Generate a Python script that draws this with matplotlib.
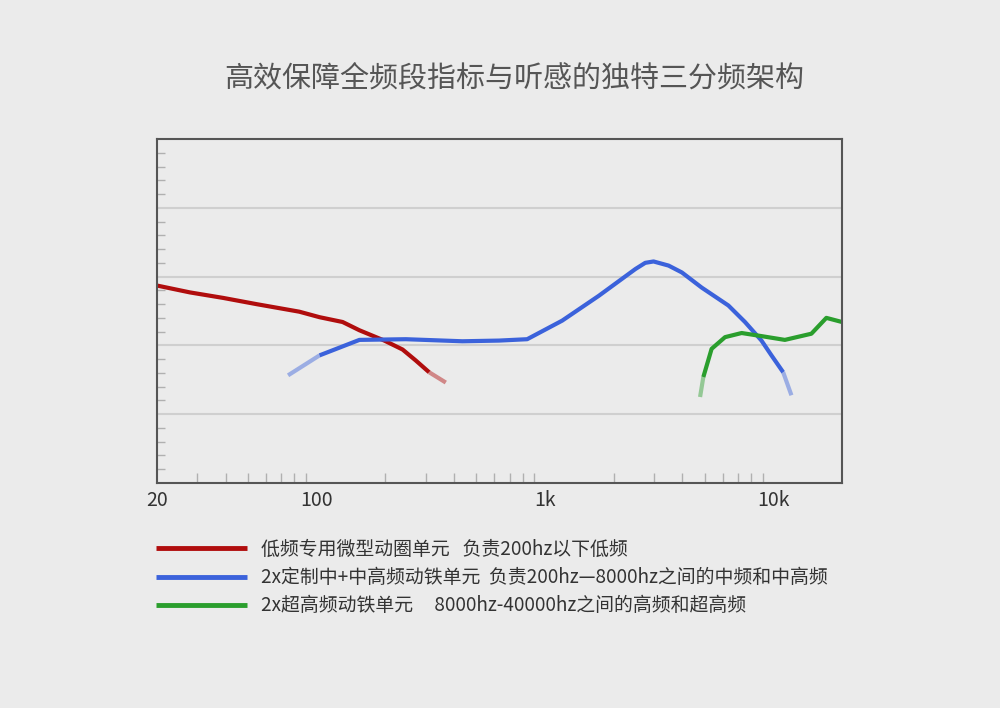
import numpy as np
import matplotlib
matplotlib.use('Agg')
from matplotlib import pyplot as plt
from matplotlib.ticker import FixedLocator, NullFormatter, FixedFormatter

plt.rcParams['font.family'] = ['Noto Sans CJK SC', 'DejaVu Sans']

# data (freq in Hz, level in arbitrary units 0..50)
titulo = '高效保障全频段指标与听感的独特三分频架构'

graves_f = [20, 27.9, 39, 54.5, 84, 103, 130, 154, 198, 238, 272, 311, 368]
graves_y = [28.7, 27.7, 26.9, 26.0, 24.9, 24.1, 23.4, 22.2, 20.7, 19.4, 17.8, 16.1, 14.6]

medios_f = [75, 103, 154, 246, 435, 629, 836, 1190, 1720, 2490, 2750, 2990, 3480,
            3980, 4860, 6360, 7520, 8880, 9820, 11050, 12010]
medios_y = [15.65, 18.55, 20.8, 20.9, 20.6, 20.7, 20.9, 23.6, 27.2, 31.1, 32.0, 32.2, 31.6,
            30.6, 28.4, 25.8, 23.4, 20.7, 18.55, 16.1, 12.75]

agudos_f = [4780, 4940, 5370, 6150, 7270, 8880, 11240, 14690, 17080, 20000]
agudos_y = [12.5, 15.4, 19.5, 21.2, 21.8, 21.35, 20.8, 21.7, 24.0, 23.4]

legendas = ['低频专用微型动圈单元   负责200hz以下低频',
            '2x定制中+中高频动铁单元  负责200hz—8000hz之间的中频和中高频',
            '2x超高频动铁单元     8000hz-40000hz之间的高频和超高频']
cores = ['#b00d0d', '#3b62db', '#2a9e2d']
# which ends fade out (start, end)
desbota = [(False, True), (True, True), (True, False)]

rotulos_x = ['20', '100', '1k', '10k']
posicoes_x = [20, 100, 1000, 10000]

fundo = '#ebebeb'
fig = plt.figure(figsize=(10, 7.08), dpi=100, facecolor=fundo)
ax = fig.add_axes([0.157, 1 - 483 / 708, 0.685, 344 / 708])
ax.set_facecolor(fundo)

linhas = []
for f, y, cor, (d0, d1) in zip([graves_f, medios_f, agudos_f], [graves_y, medios_y, agudos_y],
                               cores, desbota):
    i0 = 1 if d0 else 0
    i1 = len(f) - 1 if d1 else len(f)
    l, = ax.plot(f[i0:i1], y[i0:i1], color=cor, lw=3, solid_capstyle='butt',
                 solid_joinstyle='round')
    if d0:
        ax.plot(f[:2], y[:2], color=cor, lw=3, alpha=0.45, solid_capstyle='butt')
    if d1:
        ax.plot(f[-2:], y[-2:], color=cor, lw=3, alpha=0.45, solid_capstyle='butt')
    linhas.append(l)

ax.set_xscale('log')
ax.set_xlim(20, 20000)
ax.set_ylim(0, 50)

menores = [v * d for d in [10, 100, 1000] for v in range(2, 10)]
menores = sorted(set([m for m in menores if m > 20 and m <= 10000] + [1000, 10000]))
ax.xaxis.set_major_locator(FixedLocator(posicoes_x))
ax.xaxis.set_major_formatter(FixedFormatter(rotulos_x))
ax.xaxis.set_minor_locator(FixedLocator(menores))
ax.xaxis.set_minor_formatter(NullFormatter())
ax.tick_params(axis='x', which='major', length=0, labelsize=14, labelcolor='#333333', pad=5)
ax.tick_params(axis='x', which='minor', direction='in', length=7, width=1, color='#b0b0b0')

ax.yaxis.set_major_locator(FixedLocator([10, 20, 30, 40]))
ax.yaxis.set_minor_locator(FixedLocator([v for v in np.arange(2, 50, 2) if v % 10 != 0]))
ax.yaxis.set_major_formatter(NullFormatter())
ax.tick_params(axis='y', which='major', length=0)
ax.tick_params(axis='y', which='minor', direction='in', length=6, width=1, color='#b0b0b0')
ax.grid(axis='y', which='major', color='#cfcfcf', lw=1.5)
ax.set_axisbelow(True)

for s in ax.spines.values():
    s.set_color('#555555')
    s.set_linewidth(1.5)

fig.text(0.514, 1 - 79 / 708, titulo, ha='center', va='center', fontsize=20.9,
         color='#555555')

fig.legend(linhas, legendas, loc='upper left', bbox_to_anchor=(0.156, 1 - 539 / 708),
           frameon=False, fontsize=13.6, handlelength=4.8, handletextpad=0.75,
           labelspacing=0.38, borderpad=0, borderaxespad=0, labelcolor='#333333')
for h in fig.legends[0].get_lines():
    h.set_linewidth(3.5)

plt.savefig('out.png', dpi=100, facecolor=fundo)
